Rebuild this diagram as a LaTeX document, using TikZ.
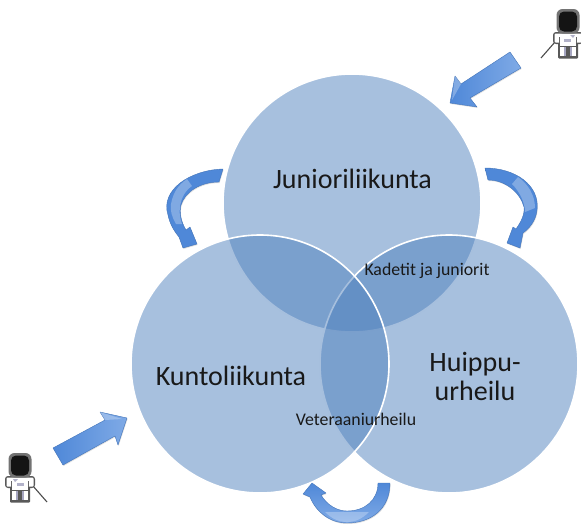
\documentclass[tikz,border=0pt]{standalone}
\usepackage{fontspec}
\setmainfont{Carlito}
\usepackage{tikz}
\usetikzlibrary{shadows}
\definecolor{accentblue}{HTML}{4F81BD}
\definecolor{arrowdark}{HTML}{4F88D8}
\definecolor{arrowlight}{HTML}{7FAAE6}
\tikzset{
  bigcircle/.style={circle,minimum size=258pt,inner sep=0pt,fill=accentblue,fill opacity=0.5,draw=white,line width=1.6pt},
  bigtext/.style={inner sep=0pt,text=black!90,font=\fontsize{28}{29}\selectfont,align=center},
  smalltext/.style={inner sep=0pt,text=black!90,font=\fontsize{17.8}{20}\selectfont},
  blockarrow/.style={draw=arrowdark!85!black,line width=0.4pt,line join=round,drop shadow={opacity=0.25,shadow xshift=0.6pt,shadow yshift=-1pt}},
  sheen/.style={fill=white,fill opacity=0.28},
  pics/fencer/.style={code={
    % sword
    \draw[line width=1.1pt,black!70] (13,9) -- (27,25);
    % legs
    \fill[black!65,rounded corners=1pt] (-10,10) rectangle (10,25.5);
    \fill[white] (-8,11) rectangle (-2,23);
    \fill[white] (2,11) rectangle (8,23);
    \fill[blue!30!black!35] (-4,14) rectangle (-2,23);
    \fill[blue!30!black!35] (2,14) rectangle (4,23);
    % body
    \fill[black!65,rounded corners=3pt] (-15,-1) rectangle (15,11);
    \fill[black!65] (-10,8) rectangle (10,14);
    \fill[white,rounded corners=1pt] (-13.5,0.5) rectangle (13.5,9.5);
    \fill[white] (-8,5) rectangle (8,13);
    \fill[blue!30!black!30] (-3,6) rectangle (4,9);
    \fill[blue!30!black!30] (-7,2) -- (-2,2) -- (-5,5) -- cycle;
    \fill[black!60] (-9,4) rectangle (-8,10);
    \fill[black!60] (8,4) rectangle (9,10);
    % helmet
    \fill[black!55,rounded corners=6pt] (-11.5,-24) rectangle (11.5,0.5);
    \fill[black!92,rounded corners=5pt] (-9,-21.5) rectangle (9,-1.5);
  }},
}
\begin{document}
\begin{tikzpicture}[x=1pt,y=-1pt]
  \useasboundingbox (0,0) rectangle (581,525);

  % circles
  \node[bigcircle] (junior) at (352,203) {};
  \node[bigcircle] (huippu) at (449,364) {};
  \node[bigcircle] (kunto) at (260,364) {};

  % labels
  \node[bigtext] (juniortext) at (352.5,179) {Junioriliikunta};
  \node[bigtext] (kuntotext) at (231,376) {Kuntoliikunta};
  \node[bigtext] (huipputext) at (475,376) {Huippu-\\urheilu};
  \node[smalltext] (kadetit) at (427,271) {Kadetit ja juniorit};
  \node[smalltext] (veteraani) at (356,419) {Veteraaniurheilu};

  % straight arrows
  \draw[blockarrow,shading angle=60,left color=arrowdark,right color=arrowlight]
    (510,52) -- (521,68) -- (470,98) -- (477,107) -- (450,103) -- (455,76) -- (461,84) -- cycle;
  \fill[sheen] (455,76) -- (461,84) -- (452,100) -- cycle;
  \draw[blockarrow,shading angle=60,left color=arrowdark,right color=arrowlight]
    (53,448) -- (63,465) -- (115,436) -- (118,445) -- (127,418) -- (100,412) -- (105,420) -- cycle;
  \fill[sheen] (100,412) -- (105,420) -- (122,419) -- cycle;

  % curved arrows
  \draw[blockarrow,top color=arrowdark,middle color=arrowlight,bottom color=arrowdark]
    (223,169) .. controls (190,170) and (160,190) .. (168,215) .. controls (170,225) and (175,232) .. (179,237)
    -- (183,248) -- (197,244) -- (190,227) -- (186,230) .. controls (181,222) and (179,212) .. (181,205)
    .. controls (185,192) and (200,182) .. (219,182) -- cycle;
  \fill[sheen] (171,204) .. controls (173,193) and (178,185) .. (187,179) -- (192,186) .. controls (185,191) and (181,198) .. (180,207) .. controls (179,213) and (180,218) .. (182,224) -- (176,224) .. controls (172,217) and (170,211) .. (171,204) -- cycle;

  \draw[blockarrow,top color=arrowdark,middle color=arrowlight,bottom color=arrowdark]
    (485,168) .. controls (515,168) and (540,185) .. (537,210) .. controls (536,220) and (530,228) .. (523,233)
    -- (520,248) -- (507,243) -- (513,227) -- (516,229) .. controls (521,222) and (525,214) .. (524,207)
    .. controls (520,192) and (505,180) .. (488,180) -- cycle;
  \fill[sheen] (518,177) .. controls (528,184) and (535,195) .. (535,208) -- (525,212) .. controls (525,203) and (520,192) .. (512,184) -- cycle;

  \draw[blockarrow,shading angle=180,top color=arrowdark,bottom color=arrowlight]
    (390,483) .. controls (390,510) and (370,523) .. (347,523) .. controls (330,523) and (316,512) .. (310,497)
    -- (303,494) -- (312,483) -- (326,493) -- (321,495) .. controls (327,505) and (337,511) .. (347,511)
    .. controls (365,511) and (378,500) .. (378,483) -- cycle;
  \fill[sheen] (325,512) -- (369,512) .. controls (362,519) and (355,522) .. (347,522) .. controls (338,522) and (331,518) .. (325,512) -- cycle;

  % fencers
  \pic (fencerone) at (20,477) {fencer};
  \pic[xscale=-1] (fencertwo) at (568,33) {fencer};
\end{tikzpicture}
\end{document}
